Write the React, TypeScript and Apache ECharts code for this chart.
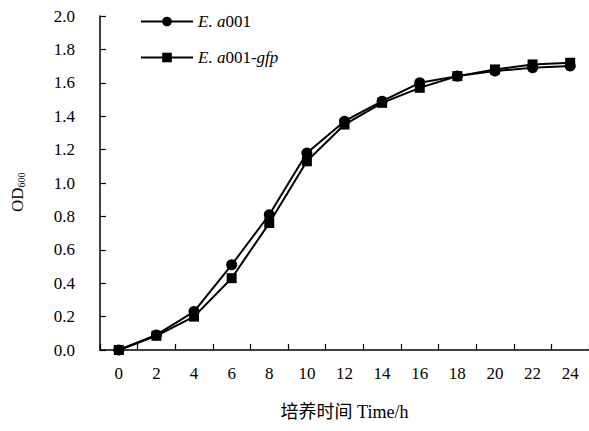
import React, { useEffect, useRef } from "react";
import * as echarts from "echarts";

const hours = ["0", "2", "4", "6", "8", "10", "12", "14", "16", "18", "20", "22", "24"];
const wildType = [0.0, 0.09, 0.23, 0.51, 0.81, 1.18, 1.37, 1.49, 1.6, 1.64, 1.67, 1.69, 1.7];
const gfpStrain = [0.0, 0.085, 0.2, 0.43, 0.76, 1.13, 1.35, 1.48, 1.57, 1.64, 1.68, 1.71, 1.72];
const yTicks = { min: 0, max: 2, interval: 0.2 };

const FONT = "Liberation Serif, Noto Sans CJK SC, serif";

export default function App() {
  const ref = useRef<HTMLDivElement>(null);
  useEffect(() => {
    if (!ref.current) return;
    const chart = echarts.init(ref.current, undefined, { renderer: "svg" });
    chart.setOption({
      animation: false,
      backgroundColor: "#ffffff",
      textStyle: { fontFamily: FONT },
      grid: { left: 100, right: -2, top: 16, bottom: 81, containLabel: false },
      legend: {
        orient: "vertical",
        left: 135,
        top: 8,
        itemWidth: 52,
        itemHeight: 12,
        itemGap: 19,
        data: ["E. a001", "E. a001-gfp"],
        formatter: (name: string) =>
          name === "E. a001" ? "{i|E. a}{n|001}" : "{i|E. a}{n|001-}{i|gfp}",
        textStyle: {
          fontFamily: FONT,
          fontSize: 17,
          color: "#000",
          rich: {
            i: { fontFamily: FONT, fontSize: 17, fontStyle: "italic", color: "#000" },
            n: { fontFamily: FONT, fontSize: 17, color: "#000" },
          },
        },
      },
      xAxis: {
        type: "category",
        data: hours,
        boundaryGap: true,
        name: "培养时间 Time/h",
        nameLocation: "middle",
        nameGap: 53,
        nameTextStyle: { fontFamily: FONT, fontSize: 18, color: "#000" },
        axisLine: { lineStyle: { color: "#000", width: 1.5 } },
        axisTick: { show: true, inside: true, length: 6, lineStyle: { color: "#000", width: 1.2 } },
        axisLabel: { fontFamily: FONT, fontSize: 17, color: "#000", margin: 15 },
        splitLine: { show: false },
      },
      yAxis: {
        type: "value",
        min: yTicks.min,
        max: yTicks.max,
        interval: yTicks.interval,
        axisLine: { show: true, lineStyle: { color: "#000", width: 1.5 } },
        axisTick: { show: true, inside: true, length: 6, lineStyle: { color: "#000", width: 1.2 } },
        axisLabel: {
          fontFamily: FONT,
          fontSize: 17,
          color: "#000",
          margin: 25,
          formatter: (v: number) => v.toFixed(1),
        },
        splitLine: { show: false },
      },
      graphic: [
        {
          type: "text",
          x: 9,
          y: 212,
          rotation: Math.PI / 2,
          style: {
            text: "OD{s|600}",
            fill: "#000",
            font: "17px Liberation Serif, serif",
            rich: { s: { fontSize: 10, fontFamily: FONT, fill: "#000", verticalAlign: "bottom" } },
          },
        },
      ],
      series: [
        {
          name: "E. a001",
          type: "line",
          data: wildType,
          symbol: "circle",
          symbolSize: 11,
          lineStyle: { color: "#000", width: 2 },
          itemStyle: { color: "#000" },
        },
        {
          name: "E. a001-gfp",
          type: "line",
          data: gfpStrain,
          symbol: "rect",
          symbolSize: 10,
          lineStyle: { color: "#000", width: 2 },
          itemStyle: { color: "#000" },
        },
      ],
    });
    return () => chart.dispose();
  }, []);
  return <div ref={ref} style={{ width: 589, height: 431, position: "absolute", left: 0, top: 0 }} />;
}
